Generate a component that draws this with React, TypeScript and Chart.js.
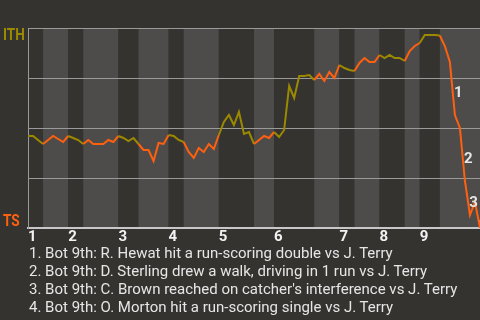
import React, { useEffect, useRef } from "react";
import { Chart, registerables } from "chart.js";

Chart.register(...registerables);

// Win probability for the away team (ITH) after each game event
const winProbability = [
  0.46, 0.46, 0.44, 0.42, 0.44, 0.46, 0.445, 0.43, 0.46, 0.45,
  0.44, 0.42, 0.44, 0.42, 0.42, 0.42, 0.44, 0.43, 0.46, 0.45,
  0.435, 0.45, 0.42, 0.39, 0.39, 0.335, 0.425, 0.42, 0.465, 0.46,
  0.44, 0.43, 0.38, 0.35, 0.4, 0.38, 0.42, 0.395, 0.465, 0.53,
  0.565, 0.515, 0.58, 0.47, 0.48, 0.42, 0.44, 0.46, 0.45, 0.48,
  0.455, 0.49, 0.71, 0.65, 0.76, 0.76, 0.765, 0.74, 0.77, 0.735,
  0.78, 0.75, 0.815, 0.8, 0.79, 0.785, 0.825, 0.85, 0.83, 0.83,
  0.865, 0.85, 0.865, 0.85, 0.85, 0.835, 0.885, 0.91, 0.925, 0.965,
  0.965, 0.965, 0.9625, 0.91, 0.83, 0.565, 0.5, 0.235, 0.065, 0.13,
  0.0,
];

// Event index at which each half-inning ends (top 1, bottom 1, top 2, ...)
const halfInningEnds = [3, 8, 11, 18, 22, 28, 31, 38, 45, 49, 57, 62, 65, 70, 75, 78, 82, 90];
const inningStarts = [0, 8, 18, 28, 38, 49, 62, 70, 78];
const inningLabels = ["1", "2", "3", "4", "5", "6", "7", "8", "9"];
const teamLabels = ["ITH", "TS"];
const keyEvents = [85, 87, 88, 90];
const keyEventLabels = ["1", "2", "3", "4"];
const keyEventNotes = [
  "1. Bot 9th: R. Hewat hit a run-scoring double vs J. Terry",
  "2. Bot 9th: D. Sterling drew a walk, driving in 1 run vs J. Terry",
  "3. Bot 9th: C. Brown reached on catcher's interference vs J. Terry",
  "4. Bot 9th: O. Morton hit a run-scoring single vs J. Terry",
];

const AWAY_COLOR = "#9b8a00";
const HOME_COLOR = "#ff6010";
const BG = "#353330";
const BAND = "#4d4c4a";
const GRID = "#9a9a9a";
const TEXT = "#e6e6e6";

function halfOf(i: number) {
  for (let h = 0; h < halfInningEnds.length; h++) if (i <= halfInningEnds[h]) return h;
  return halfInningEnds.length - 1;
}

const bandsPlugin = {
  id: "bands",
  beforeDraw(chart: any) {
    const { ctx, chartArea, scales } = chart;
    ctx.save();
    ctx.fillStyle = BG;
    ctx.fillRect(0, 0, chart.width, chart.height);
    let start = 0;
    halfInningEnds.forEach((end, h) => {
      const x0 = scales.x.getPixelForValue(start);
      const x1 = scales.x.getPixelForValue(end);
      ctx.fillStyle = h % 2 === 0 ? BG : BAND;
      ctx.fillRect(x0, chartArea.top, x1 - x0, chartArea.bottom - chartArea.top);
      start = end;
    });
    ctx.restore();
  },
};

function condensedText(ctx: any, text: string, x: number, y: number) {
  ctx.save();
  ctx.translate(x, y);
  ctx.scale(0.85, 1);
  ctx.fillText(text, 0, 0);
  ctx.restore();
}

const labelsPlugin = {
  id: "labels",
  afterDatasetsDraw(chart: any) {
    const { ctx, scales } = chart;
    const meta = chart.getDatasetMeta(0);
    ctx.save();
    ctx.font = "bold 15px Roboto";
    ctx.fillStyle = TEXT;
    ctx.textAlign = "center";
    ctx.textBaseline = "middle";
    keyEvents.forEach((k, i) => {
      const a = meta.data[k - 1];
      const b = meta.data[k];
      ctx.fillText(keyEventLabels[i], (a.x + b.x) / 2 + 6, (a.y + b.y) / 2 + 5);
    });
    ctx.font = "bold 16px Roboto";
    ctx.textAlign = "left";
    ctx.textBaseline = "alphabetic";
    ctx.fillStyle = AWAY_COLOR;
    condensedText(ctx, teamLabels[0], 3, scales.y.getPixelForValue(1) + 12);
    ctx.fillStyle = HOME_COLOR;
    condensedText(ctx, teamLabels[1], 3, scales.y.getPixelForValue(0) - 2);
    ctx.restore();
  },
};

export default function App() {
  const ref = useRef<HTMLCanvasElement>(null);
  useEffect(() => {
    document.body.style.background = BG;
    const chart = new Chart(ref.current!, {
      type: "line",
      data: {
        datasets: [
          {
            data: winProbability.map((v, i) => ({ x: i, y: v })),
            borderWidth: 2,
            pointRadius: 0,
            tension: 0,
            borderColor: HOME_COLOR,
            segment: {
              borderColor: (c: any) => (halfOf(c.p1DataIndex) % 2 === 0 ? AWAY_COLOR : HOME_COLOR),
            },
          },
        ],
      },
      options: {
        responsive: false,
        animation: false,
        layout: { padding: { left: 28, top: 28, right: 0, bottom: 74 } },
        plugins: { legend: { display: false }, tooltip: { enabled: false } },
        scales: {
          x: {
            type: "linear",
            min: 0,
            max: halfInningEnds[halfInningEnds.length - 1],
            grid: { display: false, drawTicks: false },
            border: { display: true, color: "#c8c8c8", width: 2 },
            afterBuildTicks: (axis: any) => {
              axis.ticks = inningStarts.map((v) => ({ value: v }));
            },
            ticks: {
              autoSkip: false,
              maxRotation: 0,
              align: "start",
              padding: 0,
              color: "#f2f2f2",
              font: { family: "Roboto", size: 15, weight: "bold" },
              callback: (_v: any, idx: number) => inningLabels[idx],
            },
          },
          y: {
            min: 0,
            max: 1,
            ticks: { display: false, stepSize: 0.25 },
            grid: { color: GRID, drawTicks: false, lineWidth: 1 },
            border: { display: true, color: GRID },
          },
        },
      } as any,
      plugins: [bandsPlugin, labelsPlugin],
    });
    return () => chart.destroy();
  }, []);

  return (
    <div style={{ position: "absolute", left: 0, top: 0, width: 480, height: 320, background: BG, overflow: "hidden" }}>
      <canvas ref={ref} width={480} height={320} style={{ display: "block" }} />
      <div
        style={{
          position: "absolute",
          left: 29,
          top: 244,
          font: "15px Roboto",
          lineHeight: "18px",
          color: TEXT,
          whiteSpace: "nowrap",
        }}
      >
        {keyEventNotes.map((n) => (
          <div key={n}>{n}</div>
        ))}
      </div>
    </div>
  );
}
